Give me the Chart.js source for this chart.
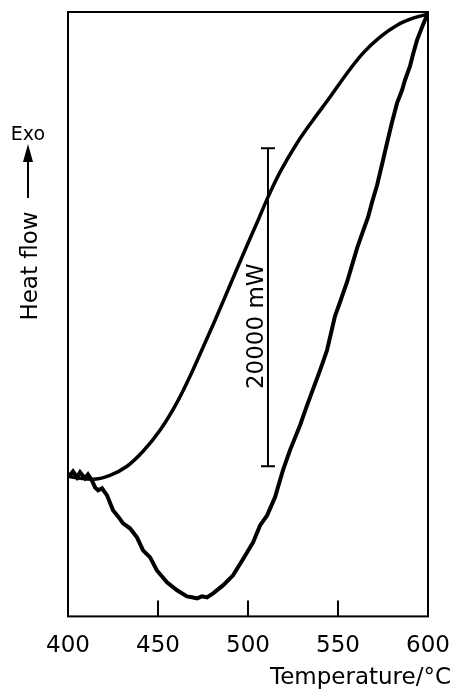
<!DOCTYPE html>
<html lang="en">
<head>
    <meta charset="UTF-8">
    <title>DSC Heat Flow</title>
    <script src="https://cdn.jsdelivr.net/npm/chart.js"></script>
    <style>
        html, body { margin: 0; padding: 0; background: #fff; }
        #wrap { width: 452px; height: 690px; position: relative; }
    </style>
</head>
<body>
    <div id="wrap"><canvas id="dscChart"></canvas></div>
    <script>
        // smooth curve (upper)
        const upperTemp = [400.0, 406.7, 413.9, 423.3, 432.8, 441.7, 451.1, 460.6, 467.8, 473.3, 481.7, 490.0, 498.3, 505.6, 511.1, 517.8, 527.2, 536.1, 545.6, 555.0, 563.9, 573.3, 582.8, 591.7, 600.0];
        const upperHeat = [8810, 8680, 8620, 8870, 9440, 10380, 11700, 13460, 15100, 16480, 18620, 20820, 23020, 24910, 26360, 27930, 29750, 31200, 32650, 34150, 35410, 36420, 37170, 37610, 37870];

        // noisy curve (lower)
        const lowerTemp = [400.0, 401.1, 402.8, 405.0, 406.7, 409.4, 411.1, 413.3, 415.0, 416.7, 418.9, 421.7, 425.0, 427.8, 430.6, 434.4, 438.3, 441.7, 445.6, 449.4, 455.0, 460.6, 466.1, 468.9, 471.7, 474.4, 477.2, 480.6, 486.1, 491.7, 497.2, 502.8, 506.7, 510.6, 515.0, 519.4, 523.3, 528.9, 532.8, 540.0, 543.9, 548.3, 551.1, 555.0, 558.3, 560.6, 563.9, 566.7, 568.9, 571.7, 575.0, 577.2, 580.0, 582.8, 585.6, 587.2, 590.0, 591.7, 593.9, 596.7, 598.3, 600.0];
        const lowerHeat = [8930, 8870, 9120, 8740, 9060, 8680, 8930, 8550, 8110, 7930, 8050, 7610, 6670, 6290, 5850, 5540, 4970, 4150, 3710, 2890, 2140, 1640, 1260, 1200, 1130, 1260, 1200, 1450, 1950, 2580, 3590, 4650, 5720, 6350, 7490, 9180, 10440, 12010, 13270, 15470, 16730, 18870, 19750, 21010, 22270, 23150, 24220, 25100, 26040, 27110, 28680, 29750, 31070, 32270, 33090, 33710, 34600, 35350, 36230, 37050, 37490, 37870];

        // 20000 mW scale bar
        const barTemp = [511.1, 511.1];
        const barHeat = [9440, 29440];
        const barLabel = '20000 mW';
        const barLabelHeat = 18240;

        const xTicks = [400, 450, 500, 550, 600];
        const yMin = 0, yMax = 38000;

        const toPts = (xs, ys) => xs.map((x, i) => ({ x: x, y: ys[i] }));
        const FONT = '"DejaVu Sans", sans-serif';

        const decor = {
            id: 'decor',
            afterDraw(chart) {
                const c = chart.ctx, a = chart.chartArea;
                const xs = chart.scales.x, ys = chart.scales.y;
                c.save();
                c.strokeStyle = '#000';
                c.fillStyle = '#000';
                // frame
                c.lineWidth = 2;
                c.strokeRect(a.left, a.top, a.right - a.left, a.bottom - a.top);
                // inward ticks
                xTicks.slice(1, -1).forEach(t => {
                    const px = Math.round(xs.getPixelForValue(t));
                    c.beginPath();
                    c.moveTo(px, a.bottom);
                    c.lineTo(px, a.bottom - 16);
                    c.stroke();
                });
                // scale bar label
                const bx = xs.getPixelForValue(barTemp[0]);
                const by = ys.getPixelForValue(barLabelHeat);
                c.save();
                c.translate(bx - 5, by);
                c.rotate(-Math.PI / 2);
                c.font = '23px ' + FONT;
                c.textAlign = 'center';
                c.textBaseline = 'alphabetic';
                c.fillText(barLabel, 0, 0);
                c.restore();
                // y axis label with arrow
                c.save();
                c.translate(37, 266);
                c.rotate(-Math.PI / 2);
                c.font = '23px ' + FONT;
                c.textAlign = 'center';
                c.fillText('Heat flow', 0, 0);
                c.restore();
                c.lineWidth = 2;
                c.beginPath();
                c.moveTo(28, 198);
                c.lineTo(28, 158);
                c.stroke();
                c.beginPath();
                c.moveTo(28, 144);
                c.lineTo(23, 162);
                c.lineTo(33, 162);
                c.closePath();
                c.fill();
                c.font = '19px ' + FONT;
                c.textAlign = 'center';
                c.fillText('Exo', 28, 140);
                // x axis title
                c.font = '23px ' + FONT;
                c.textAlign = 'right';
                c.fillText('Temperature/\u00B0C', 451, 684);
                c.restore();
            }
        };

        new Chart(document.getElementById('dscChart'), {
            type: 'scatter',
            data: {
                datasets: [
                    {
                        data: toPts(upperTemp, upperHeat),
                        showLine: true,
                        borderColor: '#000',
                        borderWidth: 3.5,
                        pointRadius: 0,
                        cubicInterpolationMode: 'monotone'
                    },
                    {
                        data: toPts(lowerTemp, lowerHeat),
                        showLine: true,
                        borderColor: '#000',
                        borderWidth: 4,
                        pointRadius: 0,
                        tension: 0
                    },
                    {
                        data: toPts(barTemp, barHeat),
                        showLine: true,
                        borderColor: '#000',
                        backgroundColor: '#000',
                        borderWidth: 2,
                        pointStyle: 'line',
                        pointRadius: 7,
                        pointBorderWidth: 2
                    }
                ]
            },
            options: {
                responsive: true,
                maintainAspectRatio: false,
                animation: false,
                layout: { padding: { left: 68, right: 24, top: 12, bottom: 22 } },
                plugins: { legend: { display: false }, tooltip: { enabled: false } },
                scales: {
                    x: {
                        type: 'linear',
                        min: 400,
                        max: 600,
                        afterBuildTicks: s => { s.ticks = xTicks.map(v => ({ value: v })); },
                        afterFit: s => { s.paddingLeft = 0; s.paddingRight = 0; },
                        grid: { display: false },
                        border: { display: false },
                        ticks: { color: '#000', font: { family: FONT, size: 23 }, padding: 8, maxRotation: 0 }
                    },
                    y: {
                        display: false,
                        min: yMin,
                        max: yMax
                    }
                }
            },
            plugins: [decor]
        });
    </script>
</body>
</html>
